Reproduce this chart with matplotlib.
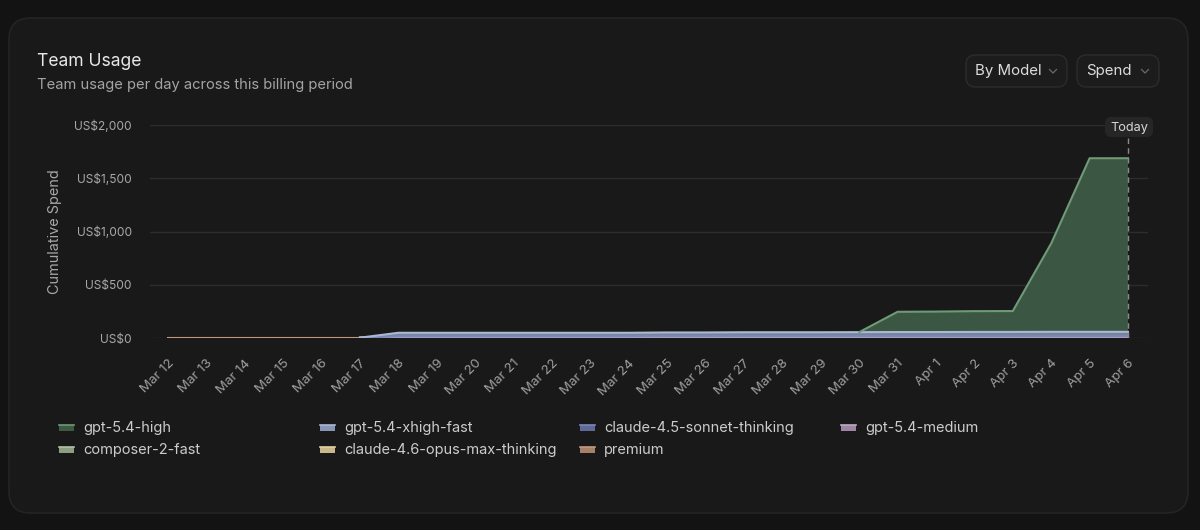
import matplotlib
matplotlib.use("Agg")
import matplotlib.pyplot as plt
from matplotlib.patches import FancyBboxPatch, Rectangle
from matplotlib.ticker import FuncFormatter
import numpy as np

plt.rcParams['font.family'] = ['Inter', 'DejaVu Sans']

# ---------------- data ----------------
dates = ["Mar 12", "Mar 13", "Mar 14", "Mar 15", "Mar 16", "Mar 17", "Mar 18", "Mar 19",
         "Mar 20", "Mar 21", "Mar 22", "Mar 23", "Mar 24", "Mar 25", "Mar 26", "Mar 27",
         "Mar 28", "Mar 29", "Mar 30", "Mar 31", "Apr 1", "Apr 2", "Apr 3", "Apr 4",
         "Apr 5", "Apr 6"]

premium = [3, 3, 3, 3, 3, 3, 3, 3, 3, 3, 3, 3, 3, 3, 3, 3, 3, 3, 3, 3, 3, 3, 3, 3, 3, 3]
claude_opus_max = [0, 0, 0, 0, 0, 0, 2, 2, 2, 2, 2, 2, 2, 2, 2, 2, 2, 2, 2, 2, 2, 2, 2, 2, 2, 2]
composer_2_fast = [0, 0, 0, 0, 0, 0, 2, 2, 2, 2, 2, 2, 2, 3, 3, 3, 3, 3, 3, 3, 3, 3, 3, 3, 3, 3]
gpt_medium = [0, 0, 0, 0, 0, 0, 2, 2, 2, 2, 2, 2, 2, 2, 2, 2, 2, 2, 2, 2, 2, 2, 2, 2, 2, 2]
claude_sonnet = [0, 0, 0, 0, 0, 0, 6, 6, 6, 6, 6, 6, 6, 6, 6, 6, 6, 6, 6, 6, 6, 6, 6, 6, 6, 6]
gpt_xhigh_fast = [0, 0, 0, 0, 0, 0, 34, 34, 34, 34, 34, 34, 34, 36, 36, 38, 38, 38, 39, 40, 40, 41, 41, 42, 42, 42]
gpt_high = [0, 0, 0, 0, 0, 0, 0, 0, 0, 0, 0, 0, 0, 0, 0, 0, 0, 0, 0, 190, 192, 195, 196, 830, 1630, 1630]

series = [
    ("premium", premium, "#a88068", "#c29a80"),
    ("claude-4.6-opus-max-thinking", claude_opus_max, "#c9b98a", "#e0d2a6"),
    ("composer-2-fast", composer_2_fast, "#8c9f84", "#b0c2a8"),
    ("gpt-5.4-medium", gpt_medium, "#9c86a2", "#c0aac6"),
    ("claude-4.5-sonnet-thinking", claude_sonnet, "#5f6a98", "#7c88b8"),
    ("gpt-5.4-xhigh-fast", gpt_xhigh_fast, "#8796b4", "#aab8d4"),
    ("gpt-5.4-high", gpt_high, "#3d5a45", "#6f9a78"),
]

legend_order = ["gpt-5.4-high", "gpt-5.4-xhigh-fast", "claude-4.5-sonnet-thinking", "gpt-5.4-medium",
                "composer-2-fast", "claude-4.6-opus-max-thinking", "premium"]

yticks = [0, 500, 1000, 1500, 2000]

# ---------------- figure ----------------
W, H = 1200, 530
fig = plt.figure(figsize=(W / 100, H / 100), dpi=100)
fig.patch.set_facecolor("#131313")

def fx(px):
    return px / W

def fy(py):
    return 1 - py / H

# card
card = FancyBboxPatch((fx(9), fy(513)), fx(1188) - fx(9), fy(18) - fy(513),
                      boxstyle="round,pad=0,rounding_size=0.018",
                      transform=fig.transFigure, facecolor="#191919", edgecolor="#242424",
                      linewidth=1.2, mutation_aspect=W / H, zorder=-10)
fig.patches.append(card)

fig.text(fx(37), fy(61), "Team Usage", color="#e8e8e8", fontsize=12.6, va="center", ha="left")
fig.text(fx(37), fy(85), "Team usage per day across this billing period", color="#a4a4a4",
         fontsize=10.6, va="center", ha="left")

# buttons
for (x0, x1, label) in [(966, 1067, "By Model"), (1077, 1159, "Spend")]:
    b = FancyBboxPatch((fx(x0), fy(87)), fx(x1) - fx(x0), fy(55) - fy(87),
                       boxstyle="round,pad=0,rounding_size=0.008",
                       transform=fig.transFigure, facecolor="#1c1c1c", edgecolor="#2c2c2c",
                       linewidth=1.0, mutation_aspect=W / H, zorder=-5)
    fig.patches.append(b)
    fig.text(fx(x0 + 9), fy(71), label, color="#dcdcdc", fontsize=10.8, va="center", ha="left")
    cx = x1 - 14
    fig.lines.append(plt.Line2D([fx(cx - 3.5), fx(cx), fx(cx + 3.5)], [fy(69.5), fy(73), fy(69.5)],
                                transform=fig.transFigure, color="#6a6a6a", linewidth=0.9))

# axes
x_left_px, x_right_px = 150, 1148
y_top_px, y_bot_px = 125, 338
ax = fig.add_axes([fx(x_left_px), fy(y_bot_px), fx(x_right_px) - fx(x_left_px), fy(y_top_px) - fy(y_bot_px)])
ax.set_facecolor("none")
x = np.arange(len(dates))
px_per_day = (1128 - 168) / (len(dates) - 1)
ax.set_xlim(-(168 - x_left_px) / px_per_day, (x_right_px - 168) / px_per_day)
ax.set_ylim(0, 2000)

for s in ax.spines.values():
    s.set_visible(False)
ax.set_yticks(yticks)
ax.yaxis.grid(True, color="#2d2d2d", linewidth=1.0)
ax.set_axisbelow(True)
ax.tick_params(axis="y", length=0, pad=13, labelsize=8.6, labelcolor="#a8a8a8")
ax.yaxis.set_major_formatter(FuncFormatter(lambda v, p: f"US${int(v):,}"))
ax.set_ylabel("Cumulative Spend", color="#a8a8a8", fontsize=10.4)
ax.yaxis.set_label_coords((62 - x_left_px) / (x_right_px - x_left_px), 0.5)

ax.set_xticks(x)
ax.set_xticklabels(dates, rotation=45, ha="right", va="top", rotation_mode="anchor")
ax.tick_params(axis="x", length=0, pad=14, labelsize=9.6, labelcolor="#a0a0a0")

base = np.zeros(len(dates))
handles = {}
for name, vals, fc, ec in series:
    v = np.array(vals, dtype=float)
    top = base + v
    ax.fill_between(x, base, top, facecolor=fc, alpha=0.85 if name != "gpt-5.4-high" else 0.95,
                    linewidth=0, zorder=2)
    # edge only where the layer is present (or just before it appears)
    present = v > 0
    show = present.copy()
    show[:-1] |= present[1:]
    edge = np.where(show, top, np.nan)
    ax.plot(x, edge, color=ec, linewidth=1.5, zorder=3)
    handles[name] = (fc, ec)
    base = top

# Today marker
ax.axvline(x[-1], ymin=0, ymax=(338 - 137) / (338 - 125), color="#8a8a8a", linewidth=1.0,
           linestyle=(0, (4, 3)), zorder=4)
tb = FancyBboxPatch((fx(1105), fy(137)), fx(1153) - fx(1105), fy(117) - fy(137),
                    boxstyle="round,pad=0,rounding_size=0.005",
                    transform=fig.transFigure, facecolor="#262626", edgecolor="none",
                    mutation_aspect=W / H, zorder=5)
fig.patches.append(tb)
fig.text(fx(1129.5), fy(127.5), "Today", color="#d8d8d8", fontsize=9.2, va="center", ha="center",
         zorder=6)

# legend
col_x = [59, 320, 580, 841]
row_y = [428, 450]
for i, name in enumerate(legend_order):
    r, c = divmod(i, 4)
    px, py = col_x[c], row_y[r]
    fc, ec = handles[name]
    fig.patches.append(Rectangle((fx(px), fy(py + 3)), fx(15), fy(0) - fy(6),
                                 transform=fig.transFigure, facecolor=fc, edgecolor="none"))
    fig.lines.append(plt.Line2D([fx(px), fx(px + 15)], [fy(py - 3), fy(py - 3)],
                                transform=fig.transFigure, color=ec, linewidth=1.2))
    fig.text(fx(px + 24), fy(py), name, color="#cccccc", fontsize=10.5, va="center", ha="left")

fig.savefig("out.png", dpi=100, facecolor=fig.get_facecolor())
